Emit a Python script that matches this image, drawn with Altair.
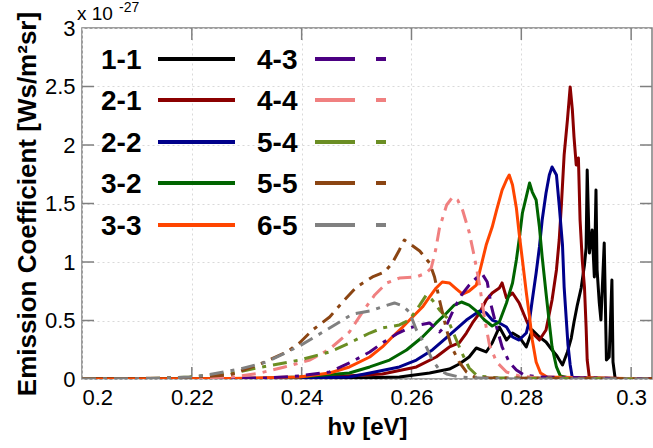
import altair as alt
import pandas as pd

# ---------------- data ----------------
names = ["1-1", "2-1", "2-2", "3-2", "3-3", "4-3", "4-4", "5-4", "5-5", "6-5"]
colors = ["#000000", "#8b0000", "#00008b", "#006400", "#ff4500",
          "#4b0082", "#f08080", "#6b8e23", "#8b4513", "#808080"]
dashed = [False, False, False, False, False, True, True, True, True, True]

x_11 = [0.2, 0.2451, 0.2578, 0.2633, 0.2669, 0.2687, 0.2705, 0.2718, 0.2736, 0.2747, 0.276, 0.2773, 0.2784,
        0.2796, 0.2809, 0.282, 0.2833, 0.2845, 0.2856, 0.2865, 0.2875, 0.2884, 0.2891, 0.2896, 0.2902, 0.2909,
        0.2915, 0.2918, 0.292, 0.2924, 0.2929, 0.2933, 0.2936, 0.2938, 0.2942, 0.2945, 0.2951, 0.2955, 0.296,
        0.2965, 0.2967, 0.2971, 0.3038]
y_11 = [0, 0.004, 0.017, 0.051, 0.085, 0.128, 0.188, 0.265, 0.231, 0.308, 0.444, 0.333, 0.393,
        0.359, 0.274, 0.419, 0.359, 0.316, 0.248, 0.197, 0.12, 0.231, 0.35, 0.487, 0.632, 0.778,
        0.974, 1.12, 1.786, 1.077, 1.274, 0.872, 1.615, 0.932, 0.65, 0.504, 1.162, 0.162, 0.188,
        0.846, 0.145, 0, 0]

x_21 = [0.2, 0.2396, 0.2547, 0.2609, 0.2645, 0.2669, 0.2687, 0.27, 0.2711, 0.2724, 0.2736, 0.2747, 0.276,
        0.2765, 0.2773, 0.2784, 0.2796, 0.2809, 0.282, 0.2833, 0.2845, 0.2856, 0.2864, 0.2869, 0.2873, 0.2878,
        0.2884, 0.2889, 0.2893, 0.2896, 0.29, 0.2904, 0.2907, 0.2911, 0.2915, 0.2918, 0.292, 0.2924, 0.3038]
y_21 = [0, 0.004, 0.043, 0.103, 0.188, 0.274, 0.308, 0.393, 0.479, 0.564, 0.675, 0.735, 0.778,
        0.821, 0.692, 0.735, 0.65, 0.504, 0.393, 0.333, 0.419, 0.675, 0.932, 1.188, 1.487, 1.915,
        2.214, 2.496, 2.299, 2.068, 1.829, 1.889, 1.359, 1.017, 0.786, 0.444, 0.162, 0.009, 0]

x_22 = [0.2, 0.236, 0.2487, 0.2524, 0.2578, 0.2609, 0.2638, 0.2669, 0.27, 0.2724, 0.2736, 0.2747, 0.276,
        0.2773, 0.2784, 0.2796, 0.2809, 0.2815, 0.282, 0.2827, 0.2833, 0.2838, 0.2845, 0.2851, 0.2856,
        0.2864, 0.2869, 0.2875, 0.2878, 0.2882, 0.2885, 0.2889, 0.2893, 0.3038]
y_22 = [0, 0.004, 0.017, 0.051, 0.103, 0.162, 0.248, 0.376, 0.504, 0.581, 0.564, 0.504, 0.479,
        0.444, 0.359, 0.333, 0.393, 0.504, 0.675, 0.906, 1.128, 1.359, 1.59, 1.744, 1.812,
        1.744, 1.487, 1.145, 0.786, 0.504, 0.291, 0.12, 0.009, 0]

x_32 = [0.2, 0.2305, 0.2396, 0.2487, 0.2524, 0.256, 0.2591, 0.262, 0.2645, 0.2664, 0.2678, 0.2691, 0.2705,
        0.272, 0.2733, 0.2747, 0.276, 0.2773, 0.2784, 0.2791, 0.2796, 0.2802, 0.2809, 0.2815, 0.282, 0.2827,
        0.2833, 0.2838, 0.2845, 0.2851, 0.2856, 0.2864, 0.2871, 0.2887, 0.3038]
y_32 = [0, 0.004, 0.017, 0.051, 0.103, 0.162, 0.248, 0.359, 0.479, 0.564, 0.632, 0.658, 0.632,
        0.573, 0.504, 0.453, 0.487, 0.65, 0.821, 1.017, 1.188, 1.419, 1.556, 1.675, 1.598, 1.53,
        1.299, 1.043, 0.735, 0.479, 0.274, 0.103, 0.026, 0.009, 0]

x_33 = [0.2, 0.2269, 0.2396, 0.2451, 0.2487, 0.2524, 0.2547, 0.2565, 0.2584, 0.2602, 0.262, 0.2633,
        0.2645, 0.2656, 0.2669, 0.2682, 0.2693, 0.2705, 0.2718, 0.2725, 0.2736, 0.2747, 0.2755, 0.2765,
        0.2773, 0.2778, 0.2784, 0.2791, 0.2796, 0.2802, 0.2809, 0.2815, 0.282, 0.2827, 0.2835, 0.2847, 0.3038]
y_33 = [0, 0.004, 0.017, 0.051, 0.103, 0.188, 0.274, 0.359, 0.444, 0.53, 0.615, 0.701,
        0.778, 0.829, 0.821, 0.769, 0.726, 0.752, 0.803, 0.932, 1.145, 1.299, 1.444, 1.615,
        1.701, 1.744, 1.658, 1.462, 1.248, 1.017, 0.744, 0.53, 0.333, 0.145, 0.051, 0.017, 0]

x_43 = [0.2, 0.2215, 0.2336, 0.2396, 0.2451, 0.2487, 0.2524, 0.2547, 0.2573, 0.2596, 0.2615, 0.2633,
        0.2651, 0.2664, 0.2678, 0.2691, 0.2705, 0.2718, 0.2729, 0.2738, 0.2745, 0.2755, 0.2765, 0.2778,
        0.2791, 0.2805, 0.2833, 0.3038]
y_43 = [0, 0.004, 0.009, 0.026, 0.06, 0.137, 0.231, 0.308, 0.385, 0.436, 0.462, 0.479,
        0.402, 0.462, 0.607, 0.718, 0.803, 0.863, 0.897, 0.829, 0.632, 0.444, 0.274, 0.145,
        0.077, 0.034, 0.017, 0]

x_44 = [0.2, 0.2178, 0.2275, 0.2324, 0.2369, 0.2396, 0.2415, 0.2451, 0.2487, 0.2511, 0.2533, 0.2555,
        0.2578, 0.2609, 0.2627, 0.2636, 0.2644, 0.2651, 0.2664, 0.2675, 0.2684, 0.2693, 0.2705, 0.2715,
        0.2724, 0.2733, 0.2742, 0.2755, 0.2773, 0.2796, 0.2833, 0.3038]
y_44 = [0, 0.004, 0.017, 0.051, 0.103, 0.137, 0.162, 0.256, 0.402, 0.573, 0.718, 0.821,
        0.863, 0.872, 0.906, 0.949, 1.103, 1.291, 1.487, 1.556, 1.53, 1.444, 1.256, 1.034,
        0.803, 0.521, 0.291, 0.145, 0.06, 0.026, 0.009, 0]

x_54 = [0.2, 0.2124, 0.2196, 0.2275, 0.2318, 0.2396, 0.2451, 0.2487, 0.2524, 0.2547, 0.2578, 0.2596,
        0.2615, 0.2627, 0.2638, 0.2651, 0.2665, 0.2678, 0.2691, 0.2705, 0.272, 0.276, 0.3038]
y_54 = [0, 0.004, 0.017, 0.051, 0.094, 0.162, 0.231, 0.308, 0.393, 0.436, 0.462, 0.504,
        0.632, 0.718, 0.675, 0.59, 0.521, 0.376, 0.231, 0.094, 0.026, 0.009, 0]

x_55 = [0.2, 0.2178, 0.2269, 0.2329, 0.2373, 0.2396, 0.242, 0.2451, 0.2478, 0.25, 0.2529, 0.2551, 0.2565,
        0.2578, 0.2587, 0.26, 0.2615, 0.2633, 0.2642, 0.2651, 0.2664, 0.2673, 0.2687, 0.27, 0.2715, 0.2742,
        0.3038]
y_55 = [0, 0.009, 0.034, 0.137, 0.231, 0.308, 0.419, 0.53, 0.675, 0.786, 0.872, 0.915, 0.991,
        1.103, 1.188, 1.145, 1.094, 0.991, 0.872, 0.675, 0.419, 0.274, 0.145, 0.06, 0.017, 0.009,
        0]

x_65 = [0.2, 0.2124, 0.22, 0.2227, 0.2287, 0.2336, 0.2396, 0.2451, 0.2493, 0.2524, 0.2551, 0.2569,
        0.2584, 0.2596, 0.2609, 0.2627, 0.2638, 0.2651, 0.2664, 0.2687, 0.2724, 0.2796, 0.3038]
y_65 = [0, 0.004, 0.017, 0.034, 0.085, 0.145, 0.282, 0.436, 0.556, 0.581, 0.624, 0.65,
        0.624, 0.573, 0.419, 0.274, 0.162, 0.077, 0.043, 0.017, 0.009, 0, 0]

series_x = [x_11, x_21, x_22, x_32, x_33, x_43, x_44, x_54, x_55, x_65]
series_y = [y_11, y_21, y_22, y_32, y_33, y_43, y_44, y_54, y_55, y_65]

x_ticks = [0.2, 0.22, 0.24, 0.26, 0.28, 0.3]
y_ticks = [0, 0.5, 1, 1.5, 2, 2.5, 3]

# ---------------- layout / style ----------------
W, H = 570, 351
FONT = "Liberation Sans"
GRAY = "#7f7f7f"
TICK = 12

xscale = alt.Scale(domain=[0.2, 0.3038], nice=False, zero=False)
yscale = alt.Scale(domain=[0, 3], nice=False)

xaxis = alt.Axis(values=x_ticks, format=".2~f", title="hν [eV]", ticks=False, domain=False,
                 grid=True, gridColor="#d9d9d9", gridDash=[2, 3], gridWidth=1,
                 labelFont=FONT, labelFontSize=22, labelColor="#000000", labelPadding=8,
                 titleFont=FONT, titleFontSize=24, titleFontWeight="bold", titleColor="#000000",
                 titlePadding=7, labelOverlap=False)
yaxis = alt.Axis(values=y_ticks, format="~g", title="Emission Coefficient [Ws/m²sr]", ticks=False,
                 domain=False, grid=True, gridColor="#d9d9d9", gridDash=[2, 3], gridWidth=1,
                 labelFont=FONT, labelFontSize=22, labelColor="#000000", labelPadding=7,
                 titleFont=FONT, titleFontSize=26, titleFontWeight="bold", titleColor="#000000",
                 titlePadding=4, labelOverlap=False)

layers = []

# inward ticks on all four sides
xt = pd.DataFrame({"v": x_ticks[1:]})
yt = pd.DataFrame({"v": y_ticks[1:-1]})
layers.append(alt.Chart(xt).mark_rule(color=GRAY, strokeWidth=1.5).encode(
    x=alt.X("v:Q", scale=xscale, axis=xaxis), y=alt.value(H), y2=alt.value(H - TICK)))
layers.append(alt.Chart(xt).mark_rule(color=GRAY, strokeWidth=1.5).encode(
    x=alt.X("v:Q", scale=xscale, axis=xaxis), y=alt.value(0), y2=alt.value(TICK)))
layers.append(alt.Chart(yt).mark_rule(color=GRAY, strokeWidth=1.5).encode(
    y=alt.Y("v:Q", scale=yscale, axis=yaxis), x=alt.value(0), x2=alt.value(TICK)))
layers.append(alt.Chart(yt).mark_rule(color=GRAY, strokeWidth=1.5).encode(
    y=alt.Y("v:Q", scale=yscale, axis=yaxis), x=alt.value(W), x2=alt.value(W - TICK)))

# curves
for name, col, dsh, xs, ys in zip(names, colors, dashed, series_x, series_y):
    assert len(xs) == len(ys), name
    df = pd.DataFrame({"x": xs, "y": ys})
    kw = dict(color=col, strokeWidth=3, clip=True, strokeJoin="round")
    if dsh:
        kw["strokeDash"] = [14, 7, 4, 7]
    layers.append(alt.Chart(df).mark_line(**kw).encode(
        x=alt.X("x:Q", scale=xscale, axis=xaxis),
        y=alt.Y("y:Q", scale=yscale, axis=yaxis)))

# manual legend (two columns, label left of line sample)
row_y = [31, 72, 114, 155, 197]
one = pd.DataFrame({"a": [0]})
for i, (name, col, dsh) in enumerate(zip(names, colors, dashed)):
    r = i % 5
    c = i // 5
    tx = 19 if c == 0 else 175
    layers.append(alt.Chart(pd.DataFrame({"t": [name]})).mark_text(
        font=FONT, fontSize=28, fontWeight="bold", align="left", baseline="alphabetic",
        color="#000000").encode(text="t:N", x=alt.value(tx), y=alt.value(row_y[r] + 10)))
    if c == 0:
        segs = [(76, 153)]
    else:
        segs = [(233, 273), (294, 304)]
    for a, b in segs:
        layers.append(alt.Chart(one).mark_rule(color=col, strokeWidth=4).encode(
            x=alt.value(a), x2=alt.value(b), y=alt.value(row_y[r])))

# exponent label
layers.append(alt.Chart(pd.DataFrame({"t": ["x 10"]})).mark_text(
    font=FONT, fontSize=19, align="left", baseline="alphabetic", color="#000000").encode(
    text="t:N", x=alt.value(-5), y=alt.value(-8)))
layers.append(alt.Chart(pd.DataFrame({"t": ["-27"]})).mark_text(
    font=FONT, fontSize=14, align="left", baseline="alphabetic", color="#000000").encode(
    text="t:N", x=alt.value(37), y=alt.value(-16)))

chart = alt.layer(*layers).properties(
    width=W, height=H,
    autosize=alt.AutoSizeParams(type="none"),
    padding={"left": 82, "top": 28, "right": 1, "bottom": 69},
    background="#ffffff",
).configure_view(stroke=GRAY, strokeWidth=1.5)

chart.save("out.html", embed_options={"renderer": "svg", "actions": False})
